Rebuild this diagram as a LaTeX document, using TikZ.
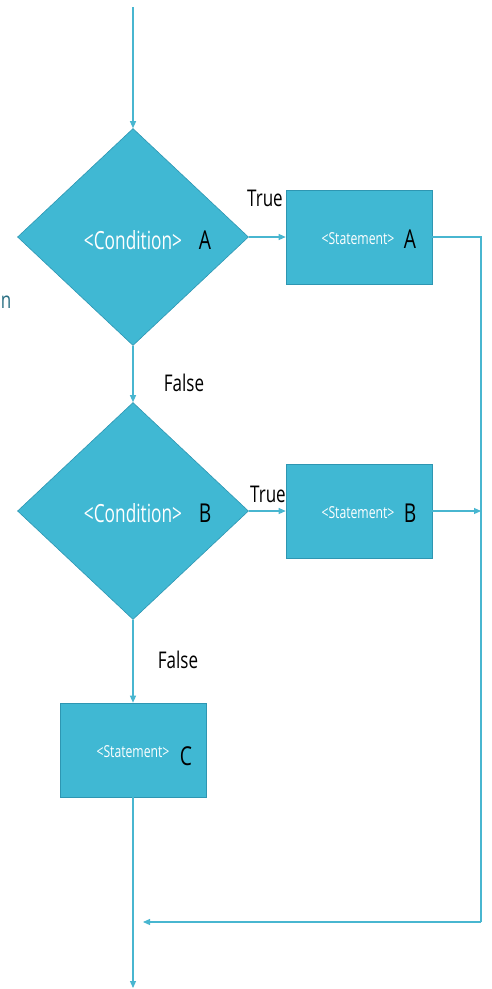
\documentclass[tikz,border=0pt]{standalone}
\usepackage{fontspec}
\setmainfont{Open Sans}
\newfontfamily\narrow[FakeStretch=0.74]{Open Sans}
\newfontfamily\condfont[FakeStretch=0.69]{Open Sans}
\usetikzlibrary{shapes.geometric,arrows.meta}
\definecolor{boxfill}{RGB}{64,184,211}
\definecolor{boxedge}{RGB}{46,150,178}
\definecolor{flow}{RGB}{72,182,208}
\definecolor{note}{RGB}{40,110,130}
\begin{document}
\begin{tikzpicture}[x=1pt,y=-1pt,
  decision/.style={diamond,draw=boxedge,fill=boxfill,line width=0.6pt,
    minimum width=231pt,minimum height=217pt,inner sep=0pt,aspect=1.06},
  action/.style={rectangle,draw=boxedge,fill=boxfill,line width=0.6pt,
    minimum width=146pt,minimum height=94pt,inner sep=0pt},
  flowline/.style={draw=flow,line width=1.1pt},
  flowarrow/.style={flowline,-{Triangle[length=7pt,width=6pt]}},
  wtext/.style={text=white,font=\condfont\fontsize{25}{28}\selectfont},
  wsmall/.style={text=white,font=\narrow\fontsize{16.5}{18}\selectfont},
  btext/.style={text=black,font=\narrow\fontsize{26}{28}\selectfont},
  label/.style={text=black,font=\narrow\fontsize{23}{26}\selectfont}]
\useasboundingbox (0,0) rectangle (491,989);

% decisions and statements
\node[decision] (dA) at (133,237) {};
\node[decision] (dB) at (133,511) {};
\node[action] (sA) at (359,237) {};
\node[action] (sB) at (359,511) {};
\node[action] (sC) at (133,750) {};

% texts inside the shapes
\node[wtext] (cA) at (133,240) {<Condition>};
\node[btext] (kA) at (205,240) {A};
\node[wtext] (cB) at (133,513) {<Condition>};
\node[btext] (kB) at (205,513) {B};
\node[wsmall] (tA) at (358,239) {<Statement>};
\node[btext] (kSA) at (410,239) {A};
\node[wsmall] (tB) at (358,513) {<Statement>};
\node[btext] (kSB) at (410,513) {B};
\node[wsmall] (tC) at (133,752) {<Statement>};
\node[btext] (kSC) at (186,756) {C};

% branch labels
\node[label] (tr1) at (265,198) {True};
\node[label] (tr2) at (268,494) {True};
\node[label] (f1) at (184,383) {False};
\node[label] (f2) at (178,660) {False};
\node[text=note,font=\narrow\fontsize{23}{26}\selectfont] (nn) at (6,302) {n};

% connectors
\coordinate (start) at (133,7);
\coordinate (rightA) at (481,237);
\coordinate (rightB) at (481,511);
\coordinate (corner) at (481,922);
\coordinate (merge) at (143,922);
\coordinate (finish) at (133,988);

\draw[flowarrow] (start) -- (dA.north);
\draw[flowarrow] (dA.east) -- (sA.west);
\draw[flowarrow] (dA.south) -- (dB.north);
\draw[flowarrow] (dB.east) -- (sB.west);
\draw[flowarrow] (dB.south) -- (sC.north);
\draw[flowline] (sA.east) -- (rightA) -- (corner);
\draw[flowarrow] (corner) -- (merge);
\draw[flowarrow] (sB.east) -- (rightB);
\draw[flowarrow] (sC.south) -- (finish);
\end{tikzpicture}
\end{document}
